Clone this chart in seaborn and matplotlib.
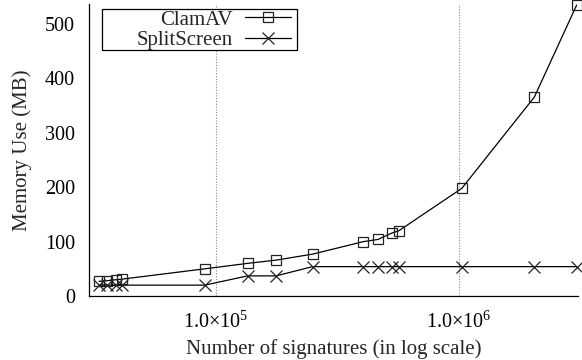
import numpy as np
import pandas as pd
import matplotlib
matplotlib.use("Agg")
import matplotlib.pyplot as plt
import matplotlib.patches as mpatches
import seaborn as sns
from matplotlib.ticker import FixedLocator, NullFormatter

# ---- data ----
signatures = [33000, 35500, 38800, 41000, 90000, 135000, 177000, 250000,
              405000, 465000, 532000, 567000, 1030000, 2050000, 3060000]
clamav_mb = [27, 28, 30, 31, 50, 60, 66, 77, 100, 104, 116, 120, 198, 366, 535]
splitscreen_mb = [20, 20, 20, 20, 20, 37, 37, 54, 54, 54, 54, 54, 54, 54, 54]
series_names = ["ClamAV", "SplitScreen"]
ytick_values = [0, 100, 200, 300, 400, 500]
xtick_values = [1e5, 1e6]
xtick_labels = [r"1.0$\times$10$^{5}$", r"1.0$\times$10$^{6}$"]

sns.set_style("white")
plt.rcParams["font.family"] = ["Liberation Serif", "DejaVu Serif"]
plt.rcParams["mathtext.fontset"] = "custom"
plt.rcParams["mathtext.rm"] = "Liberation Serif"
plt.rcParams["mathtext.it"] = "Liberation Serif:italic"
plt.rcParams["mathtext.bf"] = "Liberation Serif:bold"

df_c = pd.DataFrame({"x": signatures, "y": clamav_mb})
df_s = pd.DataFrame({"x": signatures, "y": splitscreen_mb})

W, H = 582, 360
fig = plt.figure(figsize=(W / 100, H / 100), dpi=100)
ax = fig.add_axes([89 / W, 1 - 296 / H, (578 - 89) / W, (296 - 4) / H])

sns.lineplot(data=df_c, x="x", y="y", ax=ax, color="black", linewidth=0.9,
             marker="s", markersize=7, markerfacecolor="none",
             markeredgecolor="#222222", markeredgewidth=0.9, label=series_names[0],
             clip_on=False)
sns.lineplot(data=df_s, x="x", y="y", ax=ax, color="black", linewidth=0.9,
             marker="x", markersize=9, markeredgecolor="#222222",
             markeredgewidth=0.9, label=series_names[1], clip_on=False)

ax.set_xscale("log")
ax.set_xlim(30000, 3.1e6)
ax.set_ylim(0, 537)

ax.xaxis.set_major_locator(FixedLocator(xtick_values))
ax.set_xticks(xtick_values)
ax.set_xticklabels(xtick_labels)
minor = list(np.arange(35000, 100000, 5000)) + list(np.arange(150000, 1000000, 50000)) + \
    list(np.arange(1500000, 3100000, 500000))
ax.xaxis.set_minor_locator(FixedLocator(minor))
ax.xaxis.set_minor_formatter(NullFormatter())
ax.set_yticks(ytick_values)

ax.tick_params(axis="both", which="major", direction="in", length=5, width=0.8,
               labelsize=14.5, colors="black")
ax.tick_params(axis="y", which="major", pad=10)
ax.tick_params(axis="x", which="minor", direction="in", length=3, width=0.8)
ax.tick_params(axis="x", which="major", pad=11)

for s in ["top", "right"]:
    ax.spines[s].set_visible(False)
for s in ["left", "bottom"]:
    ax.spines[s].set_color("black")
    ax.spines[s].set_linewidth(0.9)

ax.grid(False)
for xv in xtick_values:
    ax.axvline(xv, color="#888888", linestyle=(0, (1, 1.5)), linewidth=0.8, zorder=0)

ax.set_xlabel("Number of signatures (in log scale)", fontsize=15, labelpad=5)
ax.set_ylabel("Memory Use (MB)", fontsize=15, labelpad=9)

# legend box (gnuplot-style key with wide left padding)
box = mpatches.Rectangle((102 / W, 1 - 50 / H), (297 - 102) / W, (50 - 9) / H,
                         transform=fig.transFigure, facecolor="white",
                         edgecolor="black", linewidth=0.9, zorder=6,
                         clip_on=False)
ax.add_patch(box)

leg = ax.legend(loc="upper right", bbox_to_anchor=(291 / W, 1 - 10 / H),
                bbox_transform=fig.transFigure, borderaxespad=0, borderpad=0,
                markerfirst=False, frameon=False, fontsize=15,
                handlelength=2.2, handletextpad=0.6, labelspacing=0.05)
leg.set_zorder(10)
for t in leg.get_texts():
    t.set_ha("right")

fig.savefig("out.png", dpi=100)
